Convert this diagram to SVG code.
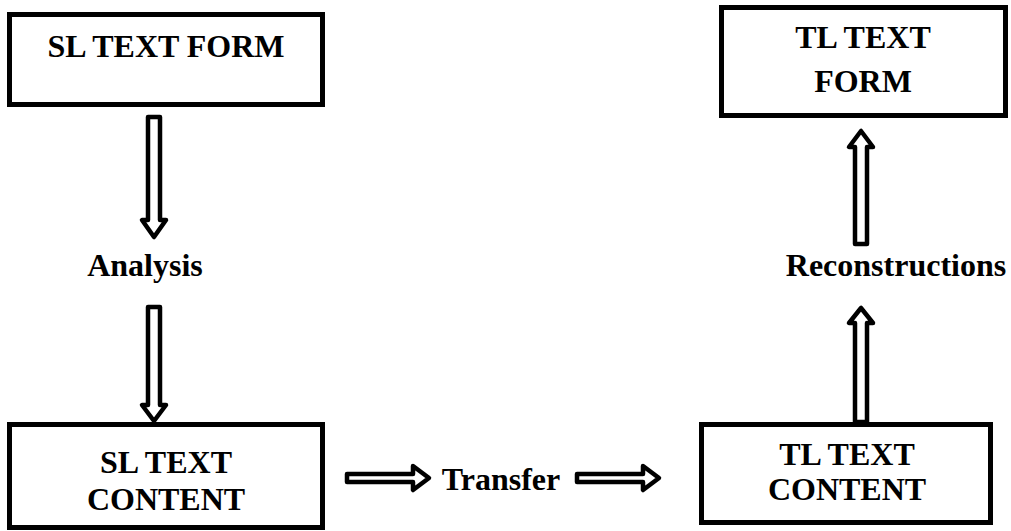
<svg xmlns="http://www.w3.org/2000/svg" width="1011" height="531" viewBox="0 0 1011 531">
<style>
.box{fill:#fff;stroke:#000;stroke-width:5}
.arr{fill:#fff;stroke:#000;stroke-width:4.5;stroke-linejoin:round}
.t{font-weight:bold;font-size:32px;fill:#000;text-anchor:middle}
</style>
<rect width="1011" height="531" fill="#fff"/>
<g font-family="'Liberation Serif', 'Times New Roman', Times, serif">
<g id="connectors">
<polygon class="arr" points="148,117 160,117 160,220 166,220 154,237 142,220 148,220"/>
<polygon class="arr" points="148,307 160,307 160,405 166,405 154,421 142,405 148,405"/>
<polygon class="arr" points="855,244 867,244 867,147 873,147 861,131 849,147 855,147"/>
<polygon class="arr" points="855,422 867,422 867,323 873,323 861,308 849,323 855,323"/>
<polygon class="arr" points="347,474 413,474 413,466 429,478 413,490 413,482 347,482"/>
<polygon class="arr" points="577,474 643,474 643,466 659,478 643,490 643,482 577,482"/>
<text class="t" x="145" y="276">Analysis</text>
<text class="t" x="896" y="276">Reconstructions</text>
<text class="t" x="501" y="490">Transfer</text>
</g>
<g id="sl-form">
<rect class="box" x="9.5" y="14.5" width="313" height="90"/>
<text class="t" x="166" y="57">SL TEXT FORM</text>
</g>
<g id="sl-content">
<rect class="box" x="9.5" y="424.5" width="313" height="103"/>
<text class="t" x="166" y="473">SL TEXT</text>
<text class="t" x="166" y="510">CONTENT</text>
</g>
<g id="tl-form">
<rect class="box" x="721.5" y="7.5" width="284" height="108"/>
<text class="t" x="863" y="48">TL TEXT</text>
<text class="t" x="863" y="92">FORM</text>
</g>
<g id="tl-content">
<rect class="box" x="701.5" y="424.5" width="289" height="98"/>
<text class="t" x="847" y="465">TL TEXT</text>
<text class="t" x="847" y="500">CONTENT</text>
</g>
</g>
</svg>
